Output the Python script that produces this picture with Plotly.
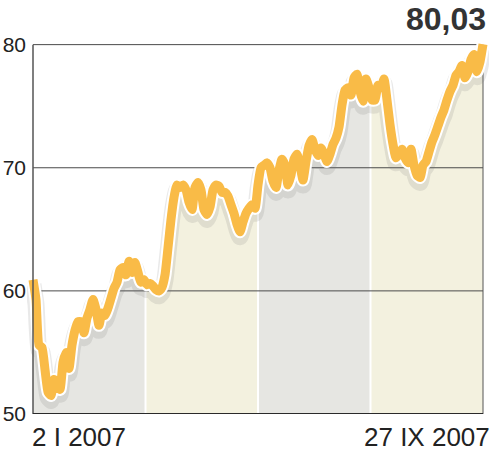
import numpy as np
import plotly.graph_objects as go

# Price series 2 I 2007 .. 27 IX 2007 (evenly sampled)
values = [
    60.9, 59.3, 55.6, 55.4, 53.6, 51.8, 51.5, 52.8, 52.4, 52.0,
    54.2, 55.0, 53.7, 55.6, 56.8, 57.5, 57.5, 56.6, 57.8, 58.5,
    59.3, 58.5, 57.2, 58.2, 58.0, 58.6, 59.4, 60.2, 60.7, 61.7,
    61.9, 61.3, 62.4, 61.5, 62.3, 61.5, 60.7, 60.9, 60.5, 60.6,
    60.4, 60.1, 60.0, 60.3, 61.3, 63.5, 65.8, 67.6, 68.6, 68.4,
    68.6, 68.2, 67.2, 66.6, 68.4, 68.8, 68.2, 66.6, 66.2, 66.8,
    68.2, 68.6, 68.5, 68.0, 68.0, 67.7, 67.0, 66.3, 65.4, 64.8,
    65.6, 66.3, 66.7, 67.0, 66.7, 68.6, 70.0, 70.2, 70.4, 70.0,
    68.9, 68.4, 69.8, 70.7, 70.2, 68.6, 69.4, 70.7, 71.1, 70.2,
    69.0, 70.5, 71.8, 72.3, 71.5, 71.0, 71.6, 71.1, 70.5, 71.1,
    71.9, 72.4, 73.3, 75.1, 76.3, 76.5, 75.9, 77.3, 77.6, 76.2,
    75.4, 77.2, 76.5, 75.5, 75.5, 76.7, 76.5, 77.2, 75.5, 73.5,
    71.9, 70.8, 71.1, 71.5, 70.8, 70.4, 71.5, 70.2, 69.4, 69.2,
    70.2, 70.5, 71.3, 72.1, 72.7, 73.4, 74.1, 74.7, 75.5, 76.2,
    76.7, 77.5, 77.8, 78.3, 77.3, 77.8, 78.8, 79.2, 77.8, 78.6,
    80.03,
]
y_ticks = [50, 60, 70, 80]
gridlines = [60, 70, 80]
start_label = "2 I 2007"
end_label = "27 IX 2007"
last_label = "80,03"
band_colors = ["#E6E6E2", "#F3F1DF", "#E6E6E2", "#F3F1DF"]

y = np.array(values)
x = np.arange(len(y))
n = len(y) - 1
edges = [0, n / 4, n / 2, 3 * n / 4, n]

fig = go.Figure()

# quarter-coloured fill under the line
for i in range(4):
    a, b = edges[i], edges[i + 1]
    inner = x[(x > a) & (x < b)]
    xs = np.concatenate([[a], inner, [b]])
    ys = np.interp(xs, x, y)
    fig.add_trace(go.Scatter(x=xs, y=ys, mode="lines", line=dict(width=0),
                             fill="tozeroy", fillcolor=band_colors[i],
                             hoverinfo="skip", showlegend=False))

# white separators between bands
for e in edges[1:-1]:
    fig.add_trace(go.Scatter(x=[e, e], y=[y_ticks[0], float(np.interp(e, x, y))],
                             mode="lines", line=dict(color="white", width=2),
                             hoverinfo="skip", showlegend=False))

# gridlines over the fill
for g in gridlines:
    fig.add_trace(go.Scatter(x=[0, n], y=[g, g], mode="lines",
                             line=dict(color="#4a4a4a", width=1),
                             hoverinfo="skip", showlegend=False))

# right edge of the fill
fig.add_trace(go.Scatter(x=[n, n], y=[y_ticks[0], y[-1]], mode="lines",
                         line=dict(color="#555555", width=1),
                         hoverinfo="skip", showlegend=False))

# soft shadow, white halo, orange line
line_kw = dict(shape="spline", smoothing=0.5)
fig.add_trace(go.Scatter(x=x, y=y - 0.4, mode="lines",
                         line=dict(color="rgba(120,120,120,0.16)", width=17, **line_kw),
                         hoverinfo="skip", showlegend=False))
fig.add_trace(go.Scatter(x=x, y=y, mode="lines",
                         line=dict(color="white", width=13, **line_kw),
                         hoverinfo="skip", showlegend=False))
fig.add_trace(go.Scatter(x=x, y=y, mode="lines",
                         line=dict(color="#F9BB47", width=9, **line_kw),
                         hoverinfo="skip", showlegend=False))

# axis lines
fig.add_shape(type="line", xref="x", yref="y", x0=0, x1=0, y0=50, y1=80,
              line=dict(color="#555555", width=1.5), layer="above")
fig.add_shape(type="line", xref="x", yref="y", x0=0, x1=n, y0=50, y1=50,
              line=dict(color="#2a2a2a", width=2), layer="above")

fig.add_annotation(x=n, y=80, xref="x", yref="y", yanchor="bottom",
                   xanchor="right", xshift=5, yshift=6, text="<b>" + last_label + "</b>",
                   showarrow=False, font=dict(family="Liberation Sans", size=32, color="#333333"))
fig.add_annotation(x=0, y=50, xref="x", yref="y", xanchor="left", yanchor="top",
                   xshift=-3, yshift=-6, text=start_label, showarrow=False,
                   font=dict(family="Liberation Sans", size=26, color="#222222"))
fig.add_annotation(x=n, y=50, xref="x", yref="y", xanchor="right", yanchor="top",
                   xshift=9, yshift=-6, text=end_label, showarrow=False,
                   font=dict(family="Liberation Sans", size=26, color="#222222"))

fig.update_layout(
    width=500, height=456,
    margin=dict(l=27, r=11, t=20, b=42, autoexpand=False),
    paper_bgcolor="white", plot_bgcolor="white",
    showlegend=False,
    xaxis=dict(range=[-2, n + 2], showgrid=False, zeroline=False, automargin=False,
               showticklabels=False, showline=False, fixedrange=True),
    yaxis=dict(range=[50, 82], tickvals=y_ticks, ticks="", showgrid=False,
               zeroline=False, showline=False, automargin=False, fixedrange=True,
               tickfont=dict(family="Liberation Sans", size=21, color="#222222")),
)

fig.write_html("out.html", config={"displayModeBar": False},
               post_script="document.body.style.margin='0';document.body.style.padding='0';")
